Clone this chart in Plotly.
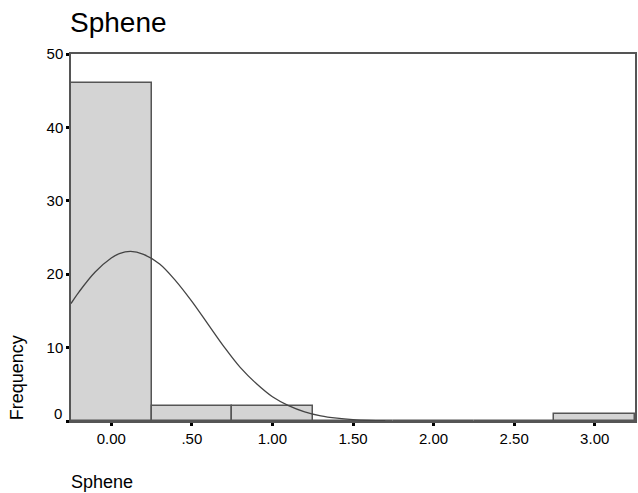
import plotly.graph_objects as go

# Histogram data
bin_centers = [0.0, 0.5, 1.0, 1.5, 2.0, 2.5, 3.0]
counts = [46, 2, 2, 0, 0, 0, 1]

# Normal curve
curve_x = [-0.25, -0.2, -0.1, 0.0, 0.05, 0.12, 0.2, 0.3, 0.4, 0.5, 0.6, 0.7, 0.8,
           0.9, 1.0, 1.1, 1.2, 1.3, 1.4, 1.5, 1.6, 1.7]
curve_y = [16.0, 17.6, 20.3, 22.2, 22.8, 23.1, 22.7, 21.4, 19.1, 16.3, 13.2, 10.1, 7.3,
           5.1, 3.3, 2.1, 1.25, 0.7, 0.38, 0.19, 0.09, 0.04]

x_tickvals = [0.0, 0.5, 1.0, 1.5, 2.0, 2.5, 3.0]
x_ticktext = ["0.00", ".50", "1.00", "1.50", "2.00", "2.50", "3.00"]
y_tickvals = [0, 10, 20, 30, 40, 50]
y_ticktext = ["", "10", "20", "30", "40", "50"]

FONT = "Liberation Sans, Arial, sans-serif"

# plot area in pixels (for placing annotations)
PL, PR, PT, PB = 71, 637, 54, 421


def px_x(p):
    return (p - PL) / (PR - PL)


def px_y(p):
    return (PB - p) / (PB - PT)


fig = go.Figure()
fig.add_trace(go.Bar(
    x=bin_centers, y=counts, width=0.5,
    marker=dict(color="#d4d4d4", line=dict(color="#555555", width=1.5)),
    showlegend=False, hoverinfo="skip",
))
fig.add_trace(go.Scatter(
    x=curve_x, y=curve_y, mode="lines", line=dict(color="#444444", width=1.3, shape="spline"),
    showlegend=False, hoverinfo="skip",
))

fig.update_layout(
    width=638, height=493,
    margin=dict(l=PL, r=638 - PR, t=PT, b=493 - PB),
    paper_bgcolor="white", plot_bgcolor="white",
    font=dict(family=FONT, color="black", size=14),
    bargap=0,
    title=dict(text="Sphene", x=70/638, xanchor="left", y=1 - 22/493, yanchor="middle",
               font=dict(size=28, family=FONT, color="black")),
    xaxis=dict(range=[-0.25, 3.25], tickvals=x_tickvals, ticktext=x_ticktext,
               showgrid=False, zeroline=False, showline=True, linecolor="#555555", linewidth=1.5,
               mirror=True, ticks="outside", ticklen=3, tickwidth=3, tickcolor="black",
               tickfont=dict(size=15), ticklabelstandoff=0),
    yaxis=dict(range=[0, 50], tickvals=y_tickvals, ticktext=y_ticktext,
               showgrid=False, zeroline=False, showline=True, linecolor="#555555", linewidth=1.5,
               mirror=True, ticks="outside", ticklen=3, tickwidth=3, tickcolor="black",
               tickfont=dict(size=15), ticklabelstandoff=0),
    annotations=[
        dict(text="0", x=0, xref="paper", xanchor="right", xshift=-7, y=0, yref="y",
             yanchor="middle", yshift=8, showarrow=False, font=dict(size=15)),
        dict(text="Frequency", x=px_x(17), xref="paper", xanchor="center",
             y=px_y(378), yref="paper", yanchor="middle", textangle=-90,
             showarrow=False, font=dict(size=18)),
        dict(text="Sphene", x=px_x(69), xref="paper", xanchor="left",
             y=px_y(482), yref="paper", yanchor="middle",
             showarrow=False, font=dict(size=18)),
    ],
)

fig.write_html("out.html")
